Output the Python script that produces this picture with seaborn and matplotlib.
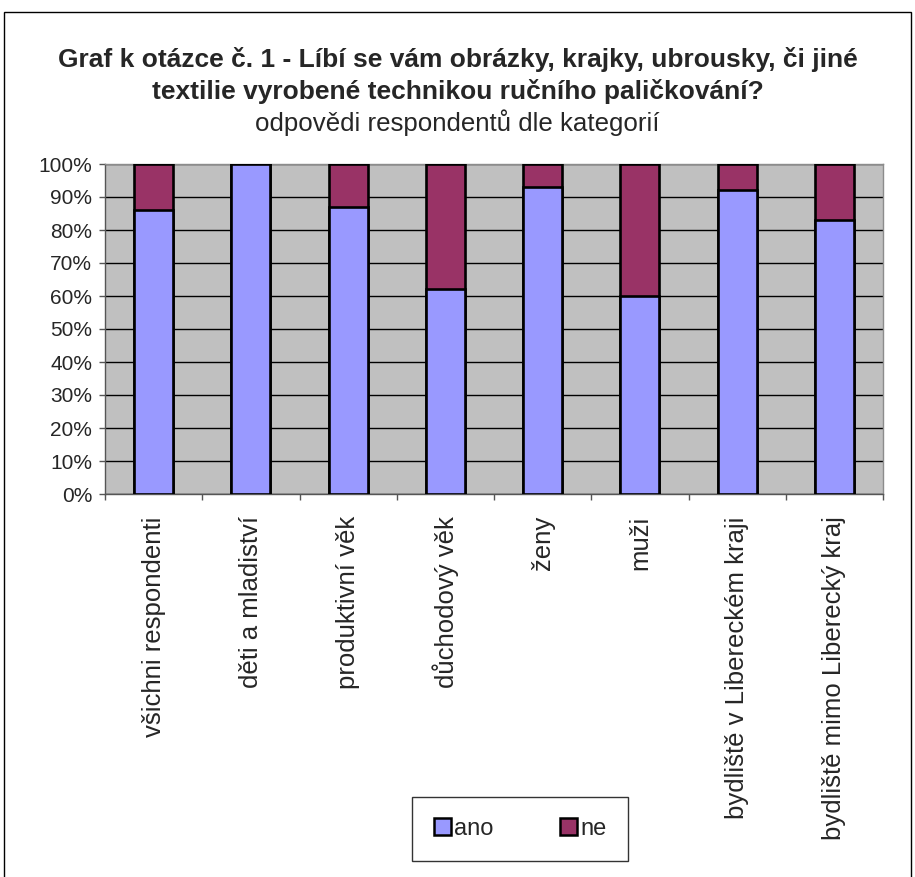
import matplotlib
matplotlib.use("Agg")
import matplotlib.pyplot as plt
import seaborn as sns
import pandas as pd
import numpy as np
from matplotlib.patches import Rectangle, Patch
from matplotlib.ticker import FixedLocator, PercentFormatter

categories = ["všichni respondenti", "děti a mladiství", "produktivní věk", "důchodový věk",
              "ženy", "muži", "bydliště v Libereckém kraji", "bydliště mimo Liberecký kraj"]
ano = [86, 100, 87, 62, 93, 60, 92, 83]
ne = [14, 0, 13, 38, 7, 40, 8, 17]
series_names = ["ano", "ne"]
yticks = [0, 10, 20, 30, 40, 50, 60, 70, 80, 90, 100]

title_line1 = "Graf k otázce č. 1 - Líbí se vám obrázky, krajky, ubrousky, či jiné"
title_line2 = "textilie vyrobené technikou ručního paličkování?"
subtitle = "odpovědi respondentů dle kategorií"

col_ano = "#9999FF"
col_ne = "#993366"

sns.set_theme(style="white")
plt.rcParams['font.family'] = ['Liberation Sans', 'DejaVu Sans']

df = pd.DataFrame({"kategorie": categories, "ano": ano, "ne": ne})
df["celkem"] = df["ano"] + df["ne"]

W, H = 915, 877
fig = plt.figure(figsize=(W / 100, H / 100), dpi=100)
ax = fig.add_axes([105/W, 1-494/H, (883-105)/W, (494-164)/H])
ax.set_facecolor("#C0C0C0")
ax.set_axisbelow(True)

sns.barplot(data=df, x="kategorie", y="celkem", color=col_ne, width=0.4,
            edgecolor="black", linewidth=1.9, saturation=1, ax=ax, zorder=3)
sns.barplot(data=df, x="kategorie", y="ano", color=col_ano, width=0.4,
            edgecolor="black", linewidth=1.9, saturation=1, ax=ax, zorder=4)

ax.set_ylim(0, 100)
ax.set_xlim(-0.5, len(categories) - 0.5)
ax.set_yticks(yticks)
ax.yaxis.set_major_formatter(PercentFormatter(decimals=0))
ax.yaxis.grid(True, color="black", linewidth=1.0)
ax.xaxis.grid(False)
ax.set_xlabel("")
ax.set_ylabel("")

ax.set_xticks(range(len(categories)))
ax.set_xticklabels(categories, rotation=90, va="top", ha="center", fontsize=18.5)
ax.xaxis.set_minor_locator(FixedLocator(np.arange(-0.5, len(categories), 1.0)))
ax.tick_params(axis="x", which="major", length=0, pad=16)
ax.tick_params(axis="x", which="minor", length=4.5, width=1, color="#555555", direction="out", bottom=True)
ax.tick_params(axis="y", which="major", length=4.3, width=1, color="#555555", direction="out",
               left=True, labelsize=15, pad=5)

for side in ["left", "bottom"]:
    ax.spines[side].set_color("#555555")
    ax.spines[side].set_linewidth(1.0)
for side in ["right", "top"]:
    ax.spines[side].set_color("#8c8c8c")
    ax.spines[side].set_linewidth(1.0)

handles = [Patch(facecolor=col_ano, edgecolor="black", linewidth=1.8),
           Patch(facecolor=col_ne, edgecolor="black", linewidth=1.8)]
leg = fig.legend(handles, series_names, loc="center", bbox_to_anchor=(520/W, 1-829/H),
                 ncol=2, frameon=True, fancybox=False, fontsize=17, handlelength=0.72,
                 handleheight=0.72, handletextpad=0.15, columnspacing=2.8,
                 borderpad=0.9, borderaxespad=0)
leg.get_frame().set_edgecolor("black")
leg.get_frame().set_linewidth(1.0)

fig.text(0.5, 1-67/H, title_line1, ha="center", va="baseline", fontsize=19, fontweight="bold")
fig.text(0.5, 1-99/H, title_line2, ha="center", va="baseline", fontsize=19, fontweight="bold")
fig.text(0.5, 1-131/H, subtitle, ha="center", va="baseline", fontsize=18.6)

fig.patches.append(Rectangle((4/W, -0.05), (911-4)/W, 1.05 - 12/H,
                             transform=fig.transFigure, fill=False, edgecolor="black",
                             linewidth=1.0, clip_on=False))

fig.savefig("out.png", dpi=100)
